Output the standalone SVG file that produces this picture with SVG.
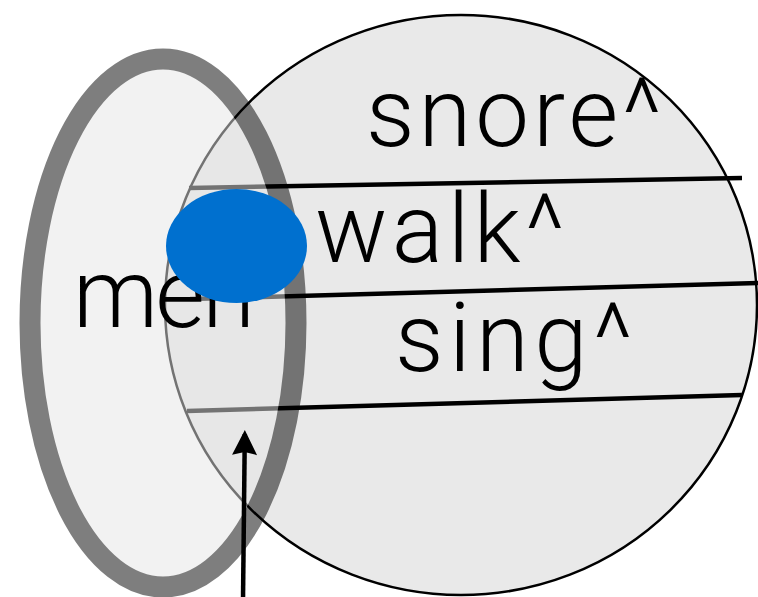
<svg xmlns="http://www.w3.org/2000/svg" width="758" height="597" viewBox="0 0 758 597">
<defs>
<style>
.lbl{font-family:Roboto,"Liberation Sans",Arial,sans-serif;font-weight:300;font-size:96px;fill:#000}
.row{stroke:#000;stroke-width:4.5;fill:none}
</style>
<marker id="ah" markerUnits="userSpaceOnUse" markerWidth="26" markerHeight="26" viewBox="0 0 26 26" refX="22" refY="13" orient="auto">
<path d="M26,13 L1,0.5 L4,13 L1,25.5 Z" fill="#000"/>
</marker>
</defs>
<rect width="758" height="597" fill="#fff"/>
<g id="verbs">
<ellipse cx="461" cy="305" rx="296" ry="290" fill="#e9e9e9" stroke="#000" stroke-width="2.5"/>
</g>
<g id="rows">
<line class="row" x1="189" y1="188" x2="742" y2="178"/>
<line class="row" x1="190" y1="299" x2="760" y2="283"/>
<line class="row" x1="187" y1="411" x2="742" y2="395"/>
</g>
<g id="men-set">
<ellipse cx="163" cy="323" rx="133" ry="264" fill="#e6e6e6" stroke="#000" stroke-width="21" opacity="0.5"/>
</g>
<g id="labels">
<text class="lbl" x="366" y="146" textLength="296" lengthAdjust="spacing">snore^</text>
<text class="lbl" x="315" y="262" textLength="250" lengthAdjust="spacing">walk^</text>
<text class="lbl" x="395" y="371" textLength="238" lengthAdjust="spacing">sing^</text>
<text class="lbl" x="73" y="327" textLength="182" lengthAdjust="spacing">men</text>
</g>
<g id="individual">
<ellipse cx="236.5" cy="246" rx="70.5" ry="57" fill="#0070cf"/>
</g>
<g id="connectors">
<line x1="243" y1="600" x2="244.8" y2="434" stroke="#000" stroke-width="4.5" marker-end="url(#ah)"/>
</g>
</svg>
